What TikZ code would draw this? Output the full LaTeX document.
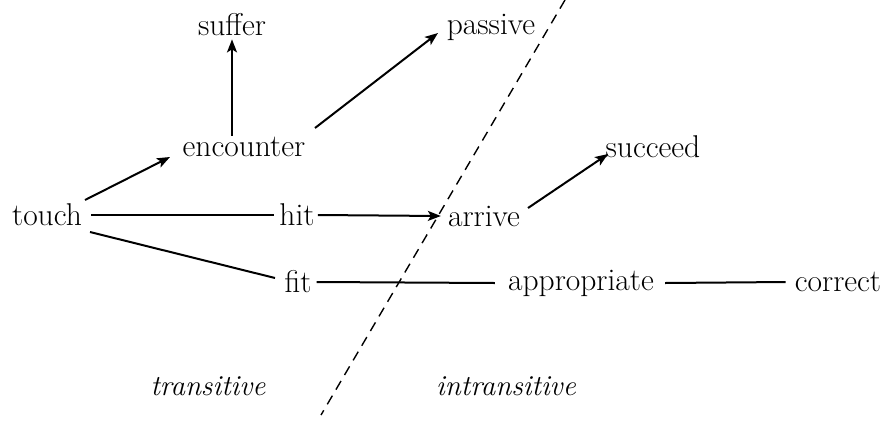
\documentclass[tikz,border=0pt]{standalone}
\usetikzlibrary{arrows.meta}
\begin{document}
\begin{tikzpicture}[x=1pt,y=-1pt,
  word/.style={font=\fontsize{31.5}{36}\selectfont, inner sep=3pt},
  side/.style={font=\fontsize{29}{34}\selectfont\itshape, inner sep=2pt},
  link/.style={line width=2pt},
  arr/.style={line width=2pt, -{Stealth[length=13pt,width=10pt,inset=3pt]}},
  divider/.style={line width=1.4pt, dash pattern=on 10pt off 7pt}]
\useasboundingbox (0,0) rectangle (891,421);
\node[word] (suffer) at (232,25) {suffer};
\node[word] (passive) at (491,27) {passive};
\node[word] (encounter) at (244,147) {encounter};
\node[word] (succeed) at (653,147) {succeed};
\node[word] (touch) at (47,215) {touch};
\node[word] (hit) at (297,215) {hit};
\node[word] (arrive) at (484,216) {arrive};
\node[word] (fit) at (298,282) {fit};
\node[word] (appropriate) at (581,283) {appropriate};
\node[word] (correct) at (838,282) {correct};
\node[side] (trans) at (208,386) {transitive};
\node[side] (intrans) at (506,386) {intransitive};
\coordinate (dtop) at (565,0);
\coordinate (dbot) at (321,415);
\draw[divider] (dtop) -- (dbot);
\draw[arr] ([shift={(38,-15)}]touch.center) -- ([shift={(-74,10)}]encounter.center);
\draw[arr] ([yshift=-2pt]encounter.north -| suffer) -- (suffer.south);
\draw[arr] ([shift={(71,-19)}]encounter.center) -- ([shift={(-53,6)}]passive.center);
\draw[link] ([xshift=6pt]touch.east) -- ([xshift=-2pt]hit.west);
\draw[arr] (hit.east) -- ([xshift=-4pt]arrive.west);
\draw[arr] ([shift={(44,-8)}]arrive.center) -- ([shift={(-45,7)}]succeed.center);
\draw[link] ([shift={(43,17)}]touch.center) -- ([shift={(-23,-4)}]fit.center);
\draw[link] ([xshift=2pt]fit.east) -- ([xshift=-10pt]appropriate.west);
\draw[link] ([xshift=8pt]appropriate.east) -- ([xshift=-6pt]correct.west);
\end{tikzpicture}
\end{document}
